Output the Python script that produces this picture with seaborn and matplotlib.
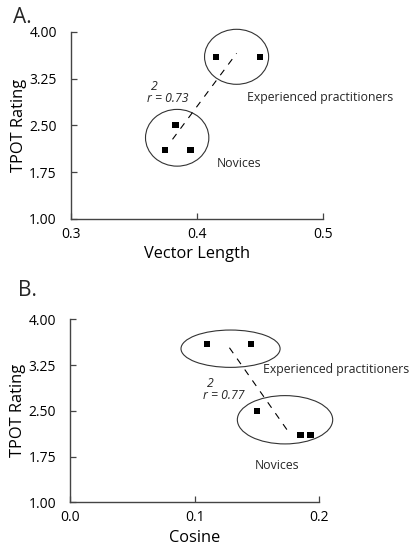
import matplotlib
matplotlib.use("Agg")
import matplotlib.pyplot as plt
from matplotlib.patches import Ellipse
import seaborn as sns
import pandas as pd

# ---- data ----
groups = ["Experienced practitioners", "Experienced practitioners", "Novices", "Novices", "Novices"]
vector_length = [0.415, 0.450, 0.383, 0.375, 0.395]
tpot_a = [3.60, 3.60, 2.50, 2.10, 2.10]
cosine = [0.110, 0.145, 0.150, 0.185, 0.193]
tpot_b = [3.60, 3.60, 2.50, 2.10, 2.10]

trend_a_x = [0.3807, 0.4315]
trend_a_y = [2.276, 3.654]
trend_b_x = [0.1279, 0.1755]
trend_b_y = [3.534, 2.148]

r2_a = "0.73"
r2_b = "0.77"

x_ticks_a = [0.3, 0.4, 0.5]
x_ticklabels_a = ["0.3", "0.4", "0.5"]
x_ticks_b = [0.0, 0.1, 0.2]
x_ticklabels_b = ["0.0", "0.1", "0.2"]
y_ticks = [1.00, 1.75, 2.50, 3.25, 4.00]
y_ticklabels = ["1.00", "1.75", "2.50", "3.25", "4.00"]

df_a = pd.DataFrame({"x": vector_length, "y": tpot_a, "group": groups})
df_b = pd.DataFrame({"x": cosine, "y": tpot_b, "group": groups})
trend_a = pd.DataFrame({"x": trend_a_x, "y": trend_a_y})
trend_b = pd.DataFrame({"x": trend_b_x, "y": trend_b_y})

sns.set_theme(style="ticks")
FONT = ["Open Sans", "DejaVu Sans"]
plt.rcParams["font.family"] = FONT

W, H = 412, 546
fig = plt.figure(figsize=(W / 100, H / 100), dpi=100)
fig.patch.set_facecolor("white")

def px_axes(left, right, top, bottom):
    return fig.add_axes([left / W, 1 - bottom / H, (right - left) / W, (bottom - top) / H])

ax1 = px_axes(70.7, 323, 31.7, 219)
ax2 = px_axes(70, 319.3, 319.3, 502.3)

spine_col = "#444444"
ANN = 8.8

def style_axis(ax, xticks, xlabels, xlim, xlabel, xlab_y, ylab_x):
    ax.set_xlim(*xlim)
    ax.set_ylim(1, 4)
    ax.set_xticks(xticks)
    ax.set_xticklabels(xlabels)
    ax.set_yticks(y_ticks)
    ax.set_yticklabels(y_ticklabels)
    for s in ["top", "right"]:
        ax.spines[s].set_visible(False)
    for s in ["left", "bottom"]:
        ax.spines[s].set_color(spine_col)
        ax.spines[s].set_linewidth(1.0)
    ax.tick_params(axis="both", direction="in", length=4, width=0.9, color=spine_col,
                   labelsize=10, labelcolor="black")
    ax.tick_params(axis="y", pad=10)
    ax.tick_params(axis="x", pad=5.5)
    ax.set_xlabel(xlabel, fontsize=11.8, color="black")
    ax.set_ylabel("TPOT Rating", fontsize=11.8, color="black")
    ax.xaxis.set_label_coords(0.5, xlab_y)
    ax.yaxis.set_label_coords(ylab_x, 0.5)
    ax.set_facecolor("white")

def panel(ax, df, trend, ell1, ell2, exp_pos, nov_pos, r_pos, r2):
    sns.scatterplot(data=df, x="x", y="y", ax=ax, marker="s", color="black",
                    s=20, edgecolor="none", legend=False, zorder=3, clip_on=False)
    sns.lineplot(data=trend, x="x", y="y", ax=ax, color="black", lw=0.8,
                 linestyle=(0, (6, 6)), legend=False)
    for (c, w, h) in (ell1, ell2):
        ax.add_patch(Ellipse(c, w, h, fill=False, ec="#333333", lw=0.8, clip_on=False))
    ax.text(*exp_pos, "Experienced practitioners", fontsize=ANN, va="center", ha="left")
    ax.text(*nov_pos, "Novices", fontsize=ANN, va="center", ha="left")
    ax.text(*r_pos, "r = " + r2, fontsize=ANN, style="italic", va="baseline", ha="left")
    ax.annotate("2", xy=r_pos, xytext=(2.8, 8.5), textcoords="offset points",
                fontsize=ANN, style="italic", va="baseline", ha="left")

# ---- panel A ----
panel(ax1, df_a, trend_a,
      ((0.4315, 3.598), 0.0508, 0.881), ((0.3844, 2.301), 0.0502, 0.909),
      (0.4397, 2.949), (0.4159, 1.891), (0.3605, 2.878), r2_a)
style_axis(ax1, x_ticks_a, x_ticklabels_a, (0.3, 0.5), "Vector Length", -0.145, -0.173)

# ---- panel B ----
panel(ax2, df_b, trend_b,
      ((0.1288, 3.518), 0.0795, 0.612), ((0.1725, 2.353), 0.0765, 0.792),
      (0.1546, 3.169), (0.1485, 1.61), (0.1065, 2.70), r2_b)
style_axis(ax2, x_ticks_b, x_ticklabels_b, (0.0, 0.2), "Cosine", -0.152, -0.176)

# panel letters
fig.text(13 / W, 1 - 7 / H, "A.", fontsize=15, va="top", ha="left")
fig.text(18 / W, 1 - 280 / H, "B.", fontsize=15, va="top", ha="left")

fig.savefig("out.png", dpi=100, facecolor="white")
